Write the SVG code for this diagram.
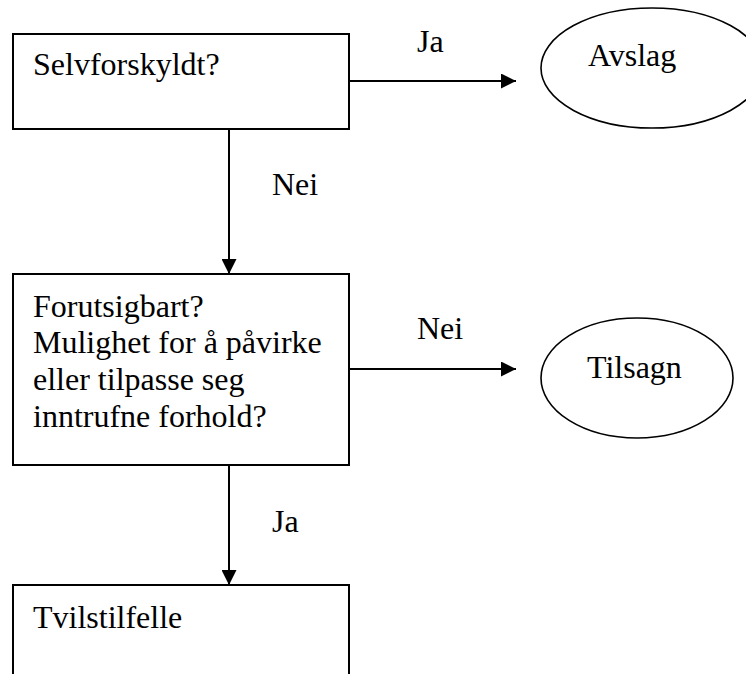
<svg xmlns="http://www.w3.org/2000/svg" width="746" height="674" viewBox="0 0 746 674" font-family="'Liberation Serif', 'Times New Roman', serif">
<style>
.box{fill:#fff;stroke:#000;stroke-width:2}
.ell{fill:#fff;stroke:#000;stroke-width:1.6}
.t{font-family:'Liberation Serif','Times New Roman',serif;font-size:32px;fill:#000}
.c{stroke:#000;stroke-width:2;fill:none}
</style>
<defs>
<marker id="ah" markerWidth="15" markerHeight="15" viewBox="0 0 15 15" refX="15" refY="7.5" orient="auto" markerUnits="userSpaceOnUse">
<path d="M0,0 L15,7.5 L0,15 Z" fill="#000"/>
</marker>
</defs>
<rect width="746" height="674" fill="#fff"/>
<g id="connectors">
<line class="c" x1="349" y1="81" x2="516" y2="81" marker-end="url(#ah)"/>
<line class="c" x1="229" y1="129" x2="229" y2="274" marker-end="url(#ah)"/>
<line class="c" x1="349" y1="369" x2="516" y2="369" marker-end="url(#ah)"/>
<line class="c" x1="229" y1="465" x2="229" y2="585" marker-end="url(#ah)"/>
<text class="t" x="417" y="52">Ja</text>
<text class="t" x="272" y="195">Nei</text>
<text class="t" x="417" y="339">Nei</text>
<text class="t" x="272" y="532">Ja</text>
</g>
<g id="selvforskyldt">
<rect class="box" x="13" y="34" width="336" height="95"/>
<text class="t" x="33" y="75">Selvforskyldt?</text>
</g>
<g id="avslag">
<ellipse class="ell" cx="652" cy="68" rx="111" ry="60"/>
<text class="t" x="588" y="66">Avslag</text>
</g>
<g id="forutsigbart">
<rect class="box" x="13" y="274" width="336" height="191"/>
<text class="t" x="33" y="317">Forutsigbart?</text>
<text class="t" x="33" y="353">Mulighet for å påvirke</text>
<text class="t" x="33" y="390">eller tilpasse seg</text>
<text class="t" x="33" y="427">inntrufne forhold?</text>
</g>
<g id="tilsagn">
<ellipse class="ell" cx="637" cy="378" rx="96" ry="60"/>
<text class="t" x="587" y="378">Tilsagn</text>
</g>
<g id="tvilstilfelle">
<rect class="box" x="13" y="585" width="336" height="100"/>
<text class="t" x="33" y="628">Tvilstilfelle</text>
</g>
</svg>
